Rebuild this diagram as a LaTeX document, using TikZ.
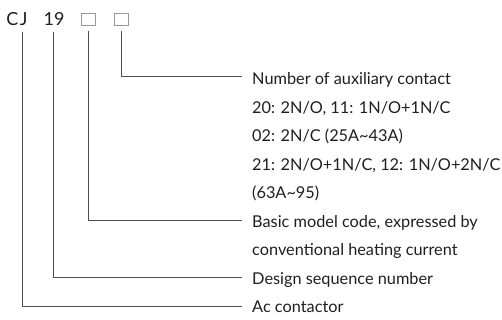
\documentclass[tikz,border=0pt]{standalone}
\usepackage{fontspec}
\setmainfont{Lato}
\usepackage{xcolor}
\usetikzlibrary{positioning}
\definecolor{leadgray}{HTML}{4D4D4D}
\definecolor{inkgray}{HTML}{1F1F1F}

\begin{document}
\begin{tikzpicture}[
    x=1pt, y=1pt,
    code/.style={inner sep=0pt,text depth=0pt,anchor=base,text=inkgray,font=\fontsize{18}{18}\selectfont},
    slot/.style={draw=gray!80,line width=0.9pt,minimum width=14pt,minimum height=12.5pt,inner sep=0pt},
    lbl/.style={inner sep=0pt,anchor=base west,text=inkgray,font=\fontsize{16.3}{16.3}\selectfont},
    row/.style={below=28.5pt of #1.base west,anchor=base west},
    lead/.style={draw=leadgray,line width=0.8pt,shorten <=5.5pt}
]
\useasboundingbox (0,0) rectangle (502,320);
% model code
\node[code] (cj) at (17,294) {C\hspace{1.5pt}J};
\node[code] (seq) at (54,294) {19};
\node[slot,anchor=south] (boxa) at (88,294) {};
\node[slot,right=18.5pt of boxa] (boxb) {};
% explanations
\node[lbl] (auxa) at (252,235) {Number of auxiliary contact};
\node[lbl,row=auxa] (auxb) {20: 2N/O, 11: 1N/O+1N/C};
\node[lbl,row=auxb] (auxc) {02: 2N/C (25A\textasciitilde43A)};
\node[lbl,row=auxc] (auxd) {21: 2N/O+1N/C, 12: 1N/O+2N/C};
\node[lbl,row=auxd] (auxe) {(63A\textasciitilde95)};
\node[lbl,row=auxe] (basa) {Basic model code, expressed by};
\node[lbl,row=basa] (basb) {conventional heating current};
\node[lbl,row=basb] (dsgn) {Design sequence number};
\node[lbl,row=dsgn] (acct) {Ac contactor};
% leaders
\draw[lead] (boxb.south) |- ([xshift=-10pt,yshift=9pt]auxa.base west);
\draw[lead] (boxa.south) |- ([xshift=-10pt,yshift=7pt]basa.base west);
\draw[lead] ([xshift=-0.7pt]seq.south) |- ([xshift=-10pt,yshift=7pt]dsgn.base west);
\draw[lead] ([xshift=5.3pt]cj.south) |- ([xshift=-10pt,yshift=7pt]acct.base west);
\end{tikzpicture}
\end{document}
